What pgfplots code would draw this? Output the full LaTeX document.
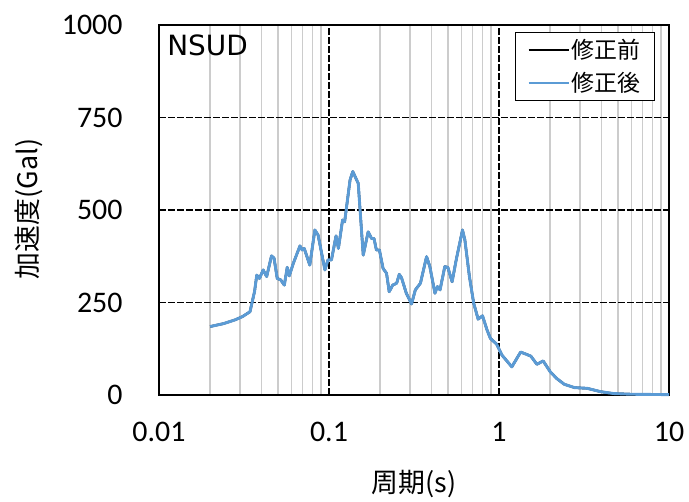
\documentclass[border=0pt]{standalone}
\usepackage{fontspec}
\setmainfont{Carlito}
\newfontfamily\jp{Noto Sans CJK JP}
\newfontfamily\dv{DejaVu Sans}
\usepackage{pgfplots}
\pgfplotsset{compat=1.18}
\definecolor{exblue}{HTML}{5B9BD5}
\pgfplotstableread{
x y
0.020 185
0.024 193
0.028 203
0.031 212
0.0343 225
0.0365 280
0.0376 324
0.039 315
0.041 338
0.043 320
0.0459 376
0.0475 370
0.0496 315
0.052 311
0.0546 297
0.0568 345
0.0584 322
0.0617 356
0.0675 403
0.0695 392
0.0715 396
0.0771 351
0.0826 446
0.0863 432
0.0946 338
0.0986 365
0.1034 365
0.110 430
0.1136 396
0.1202 473
0.1236 468
0.133 581
0.138 604
0.1486 572
0.159 378
0.170 441
0.178 423
0.184 423
0.190 392
0.198 392
0.208 342
0.218 329
0.226 279
0.237 297
0.250 302
0.259 326
0.267 317
0.285 275
0.306 246
0.322 284
0.345 302
0.375 374
0.392 347
0.420 275
0.434 293
0.450 284
0.480 347
0.500 345
0.530 306
0.560 365
0.610 446
0.630 419
0.670 320
0.710 248
0.754 205
0.800 214
0.850 176
0.890 153
0.970 137
1.04 108
1.19 76
1.34 116
1.45 110
1.54 105
1.67 83
1.82 92
2.0 63
2.18 45
2.42 29
2.78 20
3.3 18
3.96 9
4.7 4
6 2
10 1
}\dataA
\begin{document}
\begin{tikzpicture}
\begin{axis}[
  at={(0,0)}, anchor=south west,
  scale only axis, width=510bp, height=370bp,
  xmode=log, log basis x=10,
  xmin=0.01, xmax=10, ymin=0, ymax=1000,
  xtick={0.01,0.1,1,10},
  xticklabels={0.01,0.1,1,10},
  minor xtick={0.02,0.03,0.04,0.05,0.06,0.07,0.08,0.09,0.2,0.3,0.4,0.5,0.6,0.7,0.8,0.9,2,3,4,5,6,7,8,9},
  ytick={0,250,500,750,1000},
  yticklabels={0,250,500,750,1000},
  major tick length=0pt, minor tick length=0pt,
  tick label style={font=\fontsize{30}{32}\selectfont},
  xticklabel style={yshift=-24bp},
  yticklabel style={xshift=-33bp},
  xmajorgrids, xminorgrids, ymajorgrids,
  major grid style={black, line width=1.2bp, dash pattern=on 7bp off 2bp},
  minor grid style={gray!40, line width=1.5bp},
  axis line style={black, line width=2.5bp},
  legend style={at={(0.9725,0.981)}, anchor=north east, draw=black, line width=1.2bp,
    font=\jp\fontsize{23}{26}\selectfont, inner xsep=12bp, inner ysep=5bp, row sep=8bp,
    cells={anchor=west}},
  legend image code/.code={\draw[#1, line width=1.8bp] (0bp,0bp) -- (40bp,0bp);},
  clip=false,
]
\addplot[black, line width=2.4bp, line join=round] table {\dataA};
\addlegendentry{修正前}
\addplot[exblue, line width=2.9bp, line join=round] table {\dataA};
\addlegendentry{修正後}
\node[anchor=north west, font=\dv\fontsize{28}{30}\selectfont, inner sep=0pt] at (rel axis cs:0.016,0.975) {NSUD};
\end{axis}
\node[rotate=90, font=\jp\fontsize{27}{30}\selectfont] at (-130bp,186bp) {加速度(Gal)};
\node[font=\jp\fontsize{27}{30}\selectfont] at (255bp,-89bp) {周期(s)};
\path[use as bounding box] (-159bp,-103bp) rectangle (530bp,395bp);
\end{tikzpicture}
\end{document}
